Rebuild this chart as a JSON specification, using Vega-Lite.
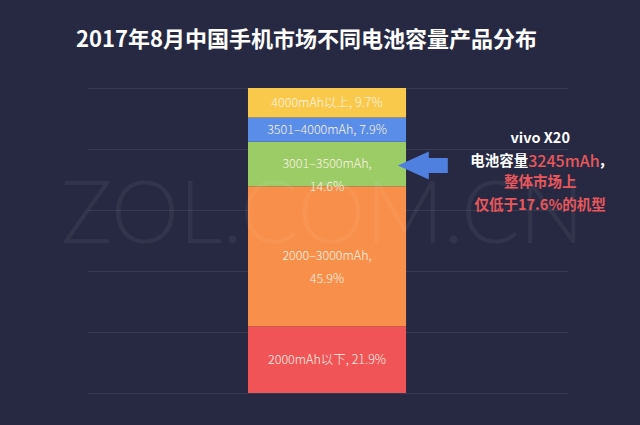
{
  "$schema": "https://vega.github.io/schema/vega-lite/v6.json",
  "width": 479,
  "height": 305,
  "autosize": {"type": "none"},
  "padding": {"left": 88, "top": 88, "right": 73, "bottom": 32},
  "background": "#262941",
  "config": {"view": {"stroke": null}},
  "title": {
    "text": "2017年8月中国手机市场不同电池容量产品分布",
    "font": "Noto Sans CJK SC",
    "fontSize": 22,
    "fontWeight": "bold",
    "color": "#ffffff",
    "anchor": "middle",
    "dx": -21,
    "offset": 36
  },
  "datasets": {
    "seg": [
      {"cat": "2000mAh以下", "value": 21.9, "label": "2000mAh以下, 21.9%"},
      {"cat": "2000–3000mAh", "value": 45.9, "label": "2000–3000mAh,|45.9%"},
      {"cat": "3001–3500mAh", "value": 14.6, "label": "3001–3500mAh,|14.6%"},
      {"cat": "3501–4000mAh", "value": 7.9, "label": "3501–4000mAh, 7.9%"},
      {"cat": "4000mAh以上", "value": 9.7, "label": "4000mAh以上, 9.7%"}
    ]
  },
  "layer": [
    {
      "data": {"name": "seg"},
      "transform": [{"stack": "value", "groupby": [], "as": ["y0", "y1"]}],
      "mark": {"type": "bar"},
      "encoding": {
        "x": {"datum": 33.4, "type": "quantitative", "scale": {"domain": [0, 100]}, "axis": null},
        "x2": {"datum": 66.4},
        "y": {
          "field": "y0", "type": "quantitative",
          "scale": {"domain": [0, 100], "nice": false},
          "axis": {"grid": true, "values": [0, 20, 40, 60, 80, 100], "labels": false, "ticks": false, "domain": false, "title": null, "gridColor": "#363950", "gridOpacity": 1, "gridWidth": 1}
        },
        "y2": {"field": "y1"},
        "color": {
          "field": "cat", "type": "nominal", "legend": null,
          "scale": {
            "domain": ["2000mAh以下", "2000–3000mAh", "3001–3500mAh", "3501–4000mAh", "4000mAh以上"],
            "range": ["#f05457", "#f88f4a", "#9ccc66", "#5a8de8", "#f9c94c"]
          }
        }
      }
    },
    {
      "data": {"name": "seg"},
      "transform": [
        {"stack": "value", "groupby": [], "as": ["y0", "y1"]},
        {"calculate": "(datum.y0 + datum.y1) / 2", "as": "mid"}
      ],
      "mark": {"type": "text", "font": "Noto Sans CJK SC", "fontSize": 12.5, "fontWeight": 300, "color": "#fdf3e6", "lineBreak": "|", "lineHeight": 23, "baseline": "middle", "align": "center"},
      "encoding": {
        "x": {"datum": 49.9, "type": "quantitative"},
        "y": {"field": "mid", "type": "quantitative"},
        "text": {"field": "label"}
      }
    },
    {
      "data": {"values": [{}]},
      "mark": {"type": "text", "font": "Lato", "fontSize": 86, "fontWeight": 300, "color": "#ffffff", "opacity": 0.05, "align": "center", "baseline": "alphabetic"},
      "encoding": {
        "x": {"datum": 49.0, "type": "quantitative"},
        "y": {"datum": 49.2, "type": "quantitative"},
        "text": {"value": "ZOL.COM.CN"}
      }
    },
    {
      "data": {"values": [{}]},
      "mark": {"type": "point", "shape": "M-1,0 L0.24,-0.56 L0.24,-0.3 L1,-0.3 L1,0.3 L0.24,0.3 L0.24,0.56 Z", "filled": true, "size": 2500, "color": "#4f80e0", "opacity": 1},
      "encoding": {
        "x": {"datum": 69.9, "type": "quantitative"},
        "y": {"datum": 74.6, "type": "quantitative"}
      }
    },
    {
      "data": {"values": [{}]},
      "mark": {"type": "text", "font": "Noto Sans CJK SC", "fontSize": 14.5, "fontWeight": "bold", "color": "#ffffff", "align": "center", "baseline": "middle"},
      "encoding": {
        "x": {"datum": 94.4, "type": "quantitative"},
        "y": {"datum": 83.3, "type": "quantitative"},
        "text": {"value": "vivo X20"}
      }
    },
    {
      "data": {"values": [{}]},
      "mark": {"type": "text", "font": "Noto Sans CJK SC", "fontSize": 14.5, "fontWeight": "bold", "color": "#ffffff", "align": "right", "baseline": "middle"},
      "encoding": {
        "x": {"datum": 91.9, "type": "quantitative"},
        "y": {"datum": 75.7, "type": "quantitative"},
        "text": {"value": "电池容量"}
      }
    },
    {
      "data": {"values": [{}]},
      "mark": {"type": "text", "font": "Noto Sans CJK SC", "fontSize": 16, "fontWeight": 500, "color": "#e8575b", "align": "left", "baseline": "middle"},
      "encoding": {
        "x": {"datum": 91.9, "type": "quantitative"},
        "y": {"datum": 75.7, "type": "quantitative"},
        "text": {"value": "3245mAh"}
      }
    },
    {
      "data": {"values": [{}]},
      "mark": {"type": "text", "font": "Noto Sans CJK SC", "fontSize": 14.5, "fontWeight": "bold", "color": "#ffffff", "align": "left", "baseline": "middle"},
      "encoding": {
        "x": {"datum": 106.6, "type": "quantitative"},
        "y": {"datum": 75.7, "type": "quantitative"},
        "text": {"value": "，"}
      }
    },
    {
      "data": {"values": [{}]},
      "mark": {"type": "text", "font": "Noto Sans CJK SC", "fontSize": 14.5, "fontWeight": "bold", "color": "#e8575b", "align": "center", "baseline": "middle"},
      "encoding": {
        "x": {"datum": 94.4, "type": "quantitative"},
        "y": {"datum": 68.9, "type": "quantitative"},
        "text": {"value": "整体市场上"}
      }
    },
    {
      "data": {"values": [{}]},
      "mark": {"type": "text", "font": "Noto Sans CJK SC", "fontSize": 14.5, "fontWeight": "bold", "color": "#e8575b", "align": "center", "baseline": "middle"},
      "encoding": {
        "x": {"datum": 94.4, "type": "quantitative"},
        "y": {"datum": 61.3, "type": "quantitative"},
        "text": {"value": "仅低于17.6%的机型"}
      }
    }
  ]
}
